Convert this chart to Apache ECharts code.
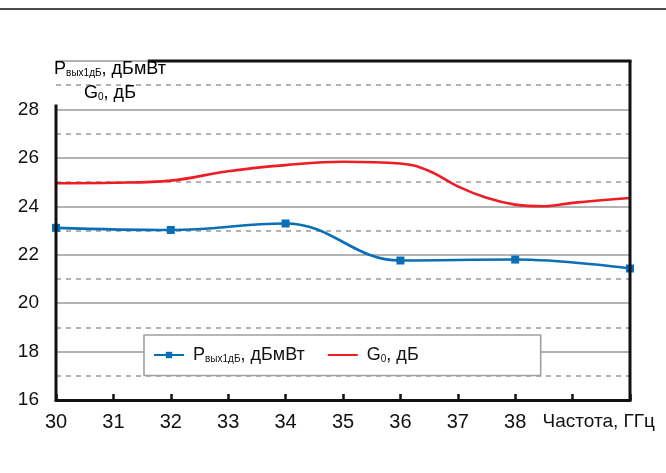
<!DOCTYPE html>
<html>
<head>
<meta charset="utf-8">
<script src="https://cdn.jsdelivr.net/npm/echarts@6/dist/echarts.min.js"></script>
<style>
  html, body { margin: 0; padding: 0; background: #fff; }
  #chart { width: 666px; height: 473px; }
</style>
</head>
<body>
<div id="chart"></div>
<script>
// Output power at 1 dB compression, dBm (measured at even frequencies, GHz)
const pFreq = [30, 32, 34, 36, 38, 40];
const pOut = [23.11, 23.02, 23.29, 21.76, 21.8, 21.43];
// Small-signal gain, dB (denser sampling where the response rolls off)
const gFreq = [30, 31, 32, 33, 34, 35, 36, 36.5, 37, 37.5, 38, 38.5, 39, 40];
const gain = [24.95, 24.97, 25.06, 25.45, 25.7, 25.84, 25.77, 25.46, 24.82, 24.35, 24.07, 24.0, 24.14, 24.34];
// Axis tick labels
const xTickLabels = ['30', '31', '32', '33', '34', '35', '36', '37', '38'];
const yTickLabels = ['16', '18', '20', '22', '24', '26', '28'];
const xName = 'Частота, ГГц';

const FONT = '"Liberation Sans", Arial, sans-serif';
const BLUE = '#0b6fb8';
const RED = '#ee1c25';

const rich = {
  a: { fontSize: 18, fontFamily: FONT, color: '#111' },
  s: { fontSize: 10, fontFamily: FONT, color: '#111', padding: [9, 0, 0, 0] }
};

const chart = echarts.init(document.getElementById('chart'), null, { renderer: 'canvas' });

const option = {
  animation: false,
  backgroundColor: '#fff',
  grid: { left: 56, right: 36, top: 61, bottom: 73 },
  xAxis: {
    type: 'value', min: 30, max: 40, interval: 1,
    axisLine: { show: true, onZero: false, lineStyle: { color: '#111', width: 3 } },
    axisTick: { show: true, inside: true, length: 6, lineStyle: { color: '#111', width: 2.5 } },
    axisLabel: {
      margin: 12, fontSize: 20, fontFamily: FONT, color: '#111',
      formatter: v => xTickLabels.indexOf(String(v)) >= 0 ? String(v) : ''
    },
    splitLine: { show: false },
    name: xName, nameLocation: 'end', nameGap: 25,
    nameTextStyle: { fontSize: 19, fontFamily: FONT, color: '#111', align: 'right', verticalAlign: 'top', padding: [12, 0, 0, 0] }
  },
  yAxis: {
    type: 'value', min: 16, max: 30, interval: 2,
    axisLine: { show: false },
    axisTick: { show: false },
    axisLabel: {
      margin: 17, fontSize: 19, fontFamily: FONT, color: '#111',
      formatter: v => yTickLabels.indexOf(String(v)) >= 0 ? String(v) : ''
    },
    splitLine: { show: true, lineStyle: { color: '#9a9a9a', width: 1.6 } },
    minorTick: { show: false, splitNumber: 2 },
    minorSplitLine: { show: true, lineStyle: { color: '#a0a0a0', width: 1.6, type: [5, 5] } }
  },
  legend: {
    left: 144, top: 335,
    orient: 'horizontal',
    padding: [11, 122, 11, 9],
    itemGap: 22,
    itemWidth: 30, itemHeight: 8,
    backgroundColor: '#fff',
    borderColor: '#a0a0a0', borderWidth: 1.6, borderRadius: 0,
    formatter: name => name === 'p'
      ? '{g| }{a|P}{s|вых1дБ}{a|, дБмВт}'
      : '{g| }{a|G}{s|0}{a|, дБ}',
    textStyle: { rich: Object.assign({ g: { width: 4 } }, rich) },
    data: ['p', { name: 'g', itemStyle: { opacity: 0 } }]
  },
  series: [
    {
      name: 'p', type: 'line', smooth: 0.4,
      data: pFreq.map((f, i) => [f, pOut[i]]),
      symbol: 'rect', symbolSize: 8,
      lineStyle: { color: BLUE, width: 2.6 },
      itemStyle: { color: BLUE },
      z: 5
    },
    {
      name: 'g', type: 'line', smooth: 0.4,
      data: gFreq.map((f, i) => [f, gain[i]]),
      symbol: 'none',
      lineStyle: { color: RED, width: 2.6 },
      itemStyle: { color: RED },
      z: 4
    }
  ]
};

chart.setOption(option);

// Frame lines and axis title drawn from grid coordinates
const px = (x, y) => chart.convertToPixel({ gridIndex: 0 }, [x, y]);
const bl = px(30, 16), tr = px(40, 30);
const leftTop = px(30, 28.2);
const topStart = px(31.6, 30);
chart.setOption({
  graphic: [
    { type: 'line', shape: { x1: 0, y1: 9, x2: 666, y2: 9 }, style: { stroke: '#111', lineWidth: 1.5 } },
    { type: 'line', shape: { x1: bl[0], y1: leftTop[1], x2: bl[0], y2: bl[1] + 1.5 }, style: { stroke: '#111', lineWidth: 3 }, z: 10 },
    { type: 'line', shape: { x1: topStart[0], y1: tr[1], x2: tr[0] + 1.5, y2: tr[1] }, style: { stroke: '#111', lineWidth: 3 }, z: 10 },
    { type: 'line', shape: { x1: tr[0], y1: tr[1], x2: tr[0], y2: bl[1] + 1.5 }, style: { stroke: '#111', lineWidth: 3 }, z: 10 },
    {
      type: 'text', x: bl[0] + 54, y: 57, z: 10,
      style: {
        text: '{a|P}{s|вых1дБ}{a|, дБмВт}\n{a|G}{s|0}{a|, дБ}',
        rich: rich, align: 'center', verticalAlign: 'top', lineHeight: 24
      }
    }
  ]
});
</script>
</body>
</html>
